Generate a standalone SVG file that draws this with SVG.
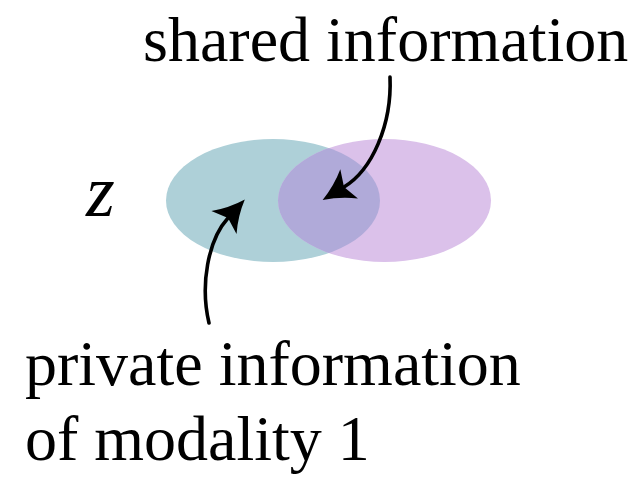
<svg xmlns="http://www.w3.org/2000/svg" width="641" height="477" viewBox="0 0 641 477">
  <style>
    .label { font-family: "Liberation Serif", "Times New Roman", serif; font-size: 64px; fill: #000; }
    .var { font-family: "Liberation Serif", "Times New Roman", serif; font-style: italic; font-size: 74px; fill: #000; }
    .conn { fill: none; stroke: #000; stroke-width: 3.6; stroke-linecap: round; }
  </style>
  <defs>
    <marker id="stealth" markerUnits="userSpaceOnUse" viewBox="-8 -18 34 36" markerWidth="34" markerHeight="36" refX="0" refY="0" orient="auto" overflow="visible">
      <path d="M25,0 Q8,-6 -6,-17 L0,0 L-6,17 Q8,6 25,0 Z" fill="#000"/>
    </marker>
    <clipPath id="clip-left">
      <ellipse cx="273" cy="200.5" rx="107" ry="61.5"/>
    </clipPath>
  </defs>

  <rect width="641" height="477" fill="#fff"/>

  <g id="latent-z">
    <g id="modality-1">
      <ellipse cx="273" cy="200.5" rx="107" ry="61.5" fill="#aed0d8"/>
    </g>
    <g id="modality-2">
      <ellipse cx="384.5" cy="200.5" rx="106.5" ry="61.5" fill="#dbc1ea"/>
    </g>
    <g id="shared">
      <ellipse cx="384.5" cy="200.5" rx="106.5" ry="61.5" fill="#b0aad9" clip-path="url(#clip-left)"/>
    </g>
    <text class="var" x="86" y="216">z</text>
  </g>

  <g id="label-shared">
    <text class="label" x="143" y="61">shared information</text>
  </g>

  <g id="label-private">
    <text class="label" x="25" y="385">private information</text>
    <text class="label" x="25" y="460">of modality 1</text>
  </g>

  <g id="connectors">
    <path class="conn" d="M390,77 C392,125 372,170 344,187" marker-end="url(#stealth)"/>
    <path class="conn" d="M209,323 C200,285 208,240 228,218" marker-end="url(#stealth)"/>
  </g>
</svg>
